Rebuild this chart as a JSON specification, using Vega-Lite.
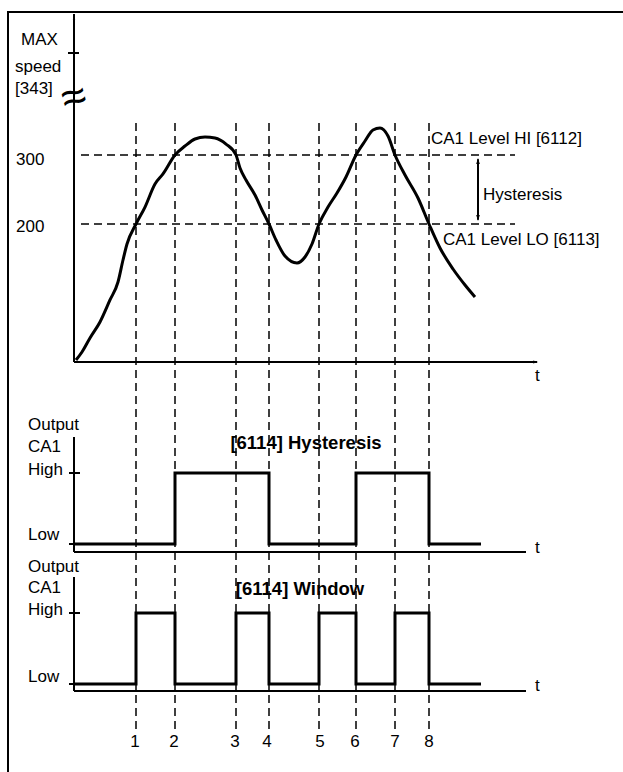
{
  "$schema": "https://vega.github.io/schema/vega-lite/v6.json",
  "width": 623,
  "height": 772,
  "autosize": "none",
  "padding": 0,
  "background": "white",
  "config": {"view": {"stroke": null}, "text": {"font": "Liberation Sans", "color": "black"}},
  "datasets": {
    "frame": [
      {"t": -6.7, "s": -594.2, "o": 1},
      {"t": -6.7, "s": 507.3, "o": 2},
      {"t": 54.8, "s": 507.3, "o": 3}
    ],
    "solid": [
      {"t": -0.1, "s": 0, "t2": -0.1, "s2": 504.4},
      {"t": -0.1, "s": 0, "t2": 46.2, "s2": 0},
      {"t": -0.7, "s": 447.8, "t2": 0.4, "s2": 447.8},
      {"t": -0.1, "s": -108.7, "t2": -0.1, "s2": -275.4},
      {"t": -0.1, "s": -275.4, "t2": 45.1, "s2": -275.4},
      {"t": -0.6, "s": -160.9, "t2": 0.5, "s2": -160.9},
      {"t": -0.6, "s": -263.8, "t2": 0, "s2": -263.8},
      {"t": -0.1, "s": -311.6, "t2": -0.1, "s2": -476.8},
      {"t": -0.1, "s": -476.8, "t2": 45.1, "s2": -476.8},
      {"t": -0.6, "s": -363.8, "t2": 0.5, "s2": -363.8},
      {"t": -0.6, "s": -466.7, "t2": 0, "s2": -466.7},
      {"t": 40.3, "s": 294, "t2": 40.3, "s2": 206}
    ],
    "dashed": [
      {"t": 0.6, "s": 300, "t2": 44.0, "s2": 300},
      {"t": 0.6, "s": 200, "t2": 44.0, "s2": 200},
      {"t": 6.1, "s": 346.4, "t2": 6.1, "s2": -533.3},
      {"t": 10.0, "s": 346.4, "t2": 10.0, "s2": -533.3},
      {"t": 16.1, "s": 346.4, "t2": 16.1, "s2": -533.3},
      {"t": 19.4, "s": 346.4, "t2": 19.4, "s2": -533.3},
      {"t": 24.4, "s": 346.4, "t2": 24.4, "s2": -533.3},
      {"t": 28.1, "s": 346.4, "t2": 28.1, "s2": -533.3},
      {"t": 32.0, "s": 346.4, "t2": 32.0, "s2": -533.3},
      {"t": 35.4, "s": 346.4, "t2": 35.4, "s2": -533.3}
    ],
    "speed": [
      {"t": 0.1, "s": 2.9}, {"t": 0.7, "s": 14.5}, {"t": 1.5, "s": 34.8}, {"t": 2.5, "s": 58.0},
      {"t": 3.5, "s": 89.9}, {"t": 4.3, "s": 115.9}, {"t": 4.8, "s": 147.8}, {"t": 5.2, "s": 171.0},
      {"t": 6.1, "s": 200}, {"t": 7.0, "s": 224.6}, {"t": 8.0, "s": 258.0}, {"t": 8.8, "s": 272.5},
      {"t": 10.0, "s": 300}, {"t": 11.0, "s": 313.0}, {"t": 12.0, "s": 323.2}, {"t": 13.0, "s": 326.1},
      {"t": 14.0, "s": 324.6}, {"t": 15.1, "s": 315.9}, {"t": 16.1, "s": 300}, {"t": 16.5, "s": 281.2},
      {"t": 17.1, "s": 263.8}, {"t": 18.0, "s": 242.0}, {"t": 18.7, "s": 220.3}, {"t": 19.4, "s": 200},
      {"t": 20.1, "s": 176.8}, {"t": 21.0, "s": 153.6}, {"t": 22.2, "s": 143.5}, {"t": 23.0, "s": 152.2},
      {"t": 23.7, "s": 171.0}, {"t": 24.4, "s": 200}, {"t": 25.3, "s": 224.6}, {"t": 26.2, "s": 244.9},
      {"t": 27.1, "s": 268.1}, {"t": 28.1, "s": 300}, {"t": 29.0, "s": 320.3}, {"t": 29.8, "s": 336.2},
      {"t": 30.5, "s": 339.1}, {"t": 31.3, "s": 327.5}, {"t": 32.0, "s": 300}, {"t": 33.0, "s": 271.0},
      {"t": 34.3, "s": 237.7}, {"t": 35.4, "s": 200}, {"t": 36.5, "s": 165.2}, {"t": 37.8, "s": 134.8},
      {"t": 39.0, "s": 111.6}, {"t": 40.0, "s": 94.2}
    ],
    "hyst": [
      {"t": 0, "s": -263.8, "o": 1}, {"t": 10.0, "s": -263.8, "o": 2},
      {"t": 10.0, "s": -160.9, "o": 3}, {"t": 19.4, "s": -160.9, "o": 4},
      {"t": 19.4, "s": -263.8, "o": 5}, {"t": 28.1, "s": -263.8, "o": 6},
      {"t": 28.1, "s": -160.9, "o": 7}, {"t": 35.4, "s": -160.9, "o": 8},
      {"t": 35.4, "s": -263.8, "o": 9}, {"t": 40.6, "s": -263.8, "o": 10}
    ],
    "window": [
      {"t": 0, "s": -466.7, "o": 1}, {"t": 6.1, "s": -466.7, "o": 2},
      {"t": 6.1, "s": -363.8, "o": 3}, {"t": 10.0, "s": -363.8, "o": 4},
      {"t": 10.0, "s": -466.7, "o": 5}, {"t": 16.1, "s": -466.7, "o": 6},
      {"t": 16.1, "s": -363.8, "o": 7}, {"t": 19.4, "s": -363.8, "o": 8},
      {"t": 19.4, "s": -466.7, "o": 9}, {"t": 24.4, "s": -466.7, "o": 10},
      {"t": 24.4, "s": -363.8, "o": 11}, {"t": 28.1, "s": -363.8, "o": 12},
      {"t": 28.1, "s": -466.7, "o": 13}, {"t": 32.0, "s": -466.7, "o": 14},
      {"t": 32.0, "s": -363.8, "o": 15}, {"t": 35.4, "s": -363.8, "o": 16},
      {"t": 35.4, "s": -466.7, "o": 17}, {"t": 40.6, "s": -466.7, "o": 18}
    ],
    "labels": [
      {"t": -5.4, "s": 466.7, "label": "MAX"},
      {"t": -6.0, "s": 427.5, "label": "speed"},
      {"t": -6.0, "s": 395.7, "label": "[343]"},
      {"t": -5.9, "s": 292.8, "label": "300"},
      {"t": -5.9, "s": 195.7, "label": "200"},
      {"t": 35.6, "s": 323.2, "label": "CA1 Level HI [6112]"},
      {"t": 36.8, "s": 176.8, "label": "CA1 Level LO [6113]"},
      {"t": 40.8, "s": 242.0, "label": "Hysteresis"},
      {"t": 46.0, "s": -20.3, "label": "t"},
      {"t": 46.0, "s": -269.6, "label": "t"},
      {"t": 46.0, "s": -469.6, "label": "t"},
      {"t": -4.7, "s": -91.3, "label": "Output"},
      {"t": -4.7, "s": -123.2, "label": "CA1"},
      {"t": -4.7, "s": -156.5, "label": "High"},
      {"t": -4.7, "s": -250.7, "label": "Low"},
      {"t": -4.7, "s": -297.1, "label": "Output"},
      {"t": -4.7, "s": -327.5, "label": "CA1"},
      {"t": -4.7, "s": -359.4, "label": "High"},
      {"t": -4.7, "s": -456.5, "label": "Low"}
    ],
    "numbers": [
      {"t": 6.0, "s": -550.7, "label": "1"}, {"t": 9.9, "s": -550.7, "label": "2"},
      {"t": 16.0, "s": -550.7, "label": "3"}, {"t": 19.2, "s": -550.7, "label": "4"},
      {"t": 24.5, "s": -550.7, "label": "5"}, {"t": 28.0, "s": -550.7, "label": "6"},
      {"t": 32.0, "s": -550.7, "label": "7"}, {"t": 35.4, "s": -550.7, "label": "8"}
    ],
    "titles": [
      {"t": 23.1, "s": -117.4, "label": "[6114] Hysteresis"},
      {"t": 22.5, "s": -329.0, "label": "[6114] Window"}
    ]
  },
  "layer": [
    {
      "data": {"name": "frame"},
      "mark": {"type": "line", "color": "black", "strokeWidth": 2},
      "encoding": {
        "x": {"field": "t", "type": "quantitative", "scale": {"domain": [0, 40], "range": [75, 475], "nice": false, "zero": false}, "axis": null},
        "y": {"field": "s", "type": "quantitative", "scale": {"domain": [0, 300], "range": [362, 155], "nice": false, "zero": false}, "axis": null},
        "order": {"field": "o"}
      }
    },
    {
      "data": {"name": "dashed"},
      "mark": {"type": "rule", "color": "black", "strokeWidth": 1.5, "strokeDash": [8, 5]},
      "encoding": {
        "x": {"field": "t", "type": "quantitative", "scale": {"domain": [0, 40], "range": [75, 475], "nice": false, "zero": false}, "axis": null},
        "y": {"field": "s", "type": "quantitative", "scale": {"domain": [0, 300], "range": [362, 155], "nice": false, "zero": false}, "axis": null},
        "x2": {"field": "t2"},
        "y2": {"field": "s2"}
      }
    },
    {
      "data": {"name": "solid"},
      "mark": {"type": "rule", "color": "black", "strokeWidth": 2},
      "encoding": {
        "x": {"field": "t", "type": "quantitative", "scale": {"domain": [0, 40], "range": [75, 475], "nice": false, "zero": false}, "axis": null},
        "y": {"field": "s", "type": "quantitative", "scale": {"domain": [0, 300], "range": [362, 155], "nice": false, "zero": false}, "axis": null},
        "x2": {"field": "t2"},
        "y2": {"field": "s2"}
      }
    },
    {
      "data": {"name": "speed"},
      "mark": {"type": "line", "color": "black", "strokeWidth": 3, "interpolate": "monotone"},
      "encoding": {
        "x": {"field": "t", "type": "quantitative", "scale": {"domain": [0, 40], "range": [75, 475], "nice": false, "zero": false}, "axis": null},
        "y": {"field": "s", "type": "quantitative", "scale": {"domain": [0, 300], "range": [362, 155], "nice": false, "zero": false}, "axis": null}
      }
    },
    {
      "data": {"name": "hyst"},
      "mark": {"type": "line", "color": "black", "strokeWidth": 3, "strokeJoin": "miter"},
      "encoding": {
        "x": {"field": "t", "type": "quantitative", "scale": {"domain": [0, 40], "range": [75, 475], "nice": false, "zero": false}, "axis": null},
        "y": {"field": "s", "type": "quantitative", "scale": {"domain": [0, 300], "range": [362, 155], "nice": false, "zero": false}, "axis": null},
        "order": {"field": "o"}
      }
    },
    {
      "data": {"name": "window"},
      "mark": {"type": "line", "color": "black", "strokeWidth": 3, "strokeJoin": "miter"},
      "encoding": {
        "x": {"field": "t", "type": "quantitative", "scale": {"domain": [0, 40], "range": [75, 475], "nice": false, "zero": false}, "axis": null},
        "y": {"field": "s", "type": "quantitative", "scale": {"domain": [0, 300], "range": [362, 155], "nice": false, "zero": false}, "axis": null},
        "order": {"field": "o"}
      }
    },
    {
      "data": {"values": [{"t": -0.1, "s": 499.3}]},
      "mark": {"type": "point", "filled": true, "color": "black", "opacity": 1, "size": 16, "shape": "M0,-1L0.6,1L-0.6,1Z"},
      "encoding": {
        "x": {"field": "t", "type": "quantitative", "scale": {"domain": [0, 40], "range": [75, 475], "nice": false, "zero": false}, "axis": null},
        "y": {"field": "s", "type": "quantitative", "scale": {"domain": [0, 300], "range": [362, 155], "nice": false, "zero": false}, "axis": null}
      }
    },
    {
      "data": {"values": [{"t": 46.07, "s": 0}]},
      "mark": {"type": "point", "filled": true, "color": "black", "opacity": 1, "size": 25, "shape": "M1,0L-1,-0.6L-1,0.6Z"},
      "encoding": {
        "x": {"field": "t", "type": "quantitative", "scale": {"domain": [0, 40], "range": [75, 475], "nice": false, "zero": false}, "axis": null},
        "y": {"field": "s", "type": "quantitative", "scale": {"domain": [0, 300], "range": [362, 155], "nice": false, "zero": false}, "axis": null}
      }
    },
    {
      "data": {"values": [{"t": 40.3, "s": 291.3}]},
      "mark": {"type": "point", "filled": true, "color": "black", "opacity": 1, "size": 36, "shape": "M0,-1L0.6,1L-0.6,1Z"},
      "encoding": {
        "x": {"field": "t", "type": "quantitative", "scale": {"domain": [0, 40], "range": [75, 475], "nice": false, "zero": false}, "axis": null},
        "y": {"field": "s", "type": "quantitative", "scale": {"domain": [0, 300], "range": [362, 155], "nice": false, "zero": false}, "axis": null}
      }
    },
    {
      "data": {"values": [{"t": 40.3, "s": 208.7}]},
      "mark": {"type": "point", "filled": true, "color": "black", "opacity": 1, "size": 36, "shape": "M0,1L0.6,-1L-0.6,-1Z"},
      "encoding": {
        "x": {"field": "t", "type": "quantitative", "scale": {"domain": [0, 40], "range": [75, 475], "nice": false, "zero": false}, "axis": null},
        "y": {"field": "s", "type": "quantitative", "scale": {"domain": [0, 300], "range": [362, 155], "nice": false, "zero": false}, "axis": null}
      }
    },
    {
      "data": {"name": "labels"},
      "mark": {"type": "text", "align": "left", "baseline": "middle", "fontSize": 17, "font": "Liberation Sans"},
      "encoding": {
        "x": {"field": "t", "type": "quantitative", "scale": {"domain": [0, 40], "range": [75, 475], "nice": false, "zero": false}, "axis": null},
        "y": {"field": "s", "type": "quantitative", "scale": {"domain": [0, 300], "range": [362, 155], "nice": false, "zero": false}, "axis": null},
        "text": {"field": "label"}
      }
    },
    {
      "data": {"name": "numbers"},
      "mark": {"type": "text", "align": "center", "baseline": "middle", "fontSize": 17, "font": "Liberation Sans"},
      "encoding": {
        "x": {"field": "t", "type": "quantitative", "scale": {"domain": [0, 40], "range": [75, 475], "nice": false, "zero": false}, "axis": null},
        "y": {"field": "s", "type": "quantitative", "scale": {"domain": [0, 300], "range": [362, 155], "nice": false, "zero": false}, "axis": null},
        "text": {"field": "label"}
      }
    },
    {
      "data": {"name": "titles"},
      "mark": {"type": "text", "align": "center", "baseline": "middle", "fontSize": 18.5, "fontWeight": "bold", "font": "Liberation Sans"},
      "encoding": {
        "x": {"field": "t", "type": "quantitative", "scale": {"domain": [0, 40], "range": [75, 475], "nice": false, "zero": false}, "axis": null},
        "y": {"field": "s", "type": "quantitative", "scale": {"domain": [0, 300], "range": [362, 155], "nice": false, "zero": false}, "axis": null},
        "text": {"field": "label"}
      }
    },
    {
      "data": {"values": [{"t": -0.1, "s": 382.0, "label": "≈"}]},
      "mark": {"type": "text", "align": "center", "baseline": "middle", "fontSize": 44, "angle": -15, "font": "Liberation Sans"},
      "encoding": {
        "x": {"field": "t", "type": "quantitative", "scale": {"domain": [0, 40], "range": [75, 475], "nice": false, "zero": false}, "axis": null},
        "y": {"field": "s", "type": "quantitative", "scale": {"domain": [0, 300], "range": [362, 155], "nice": false, "zero": false}, "axis": null},
        "text": {"field": "label"}
      }
    }
  ]
}
